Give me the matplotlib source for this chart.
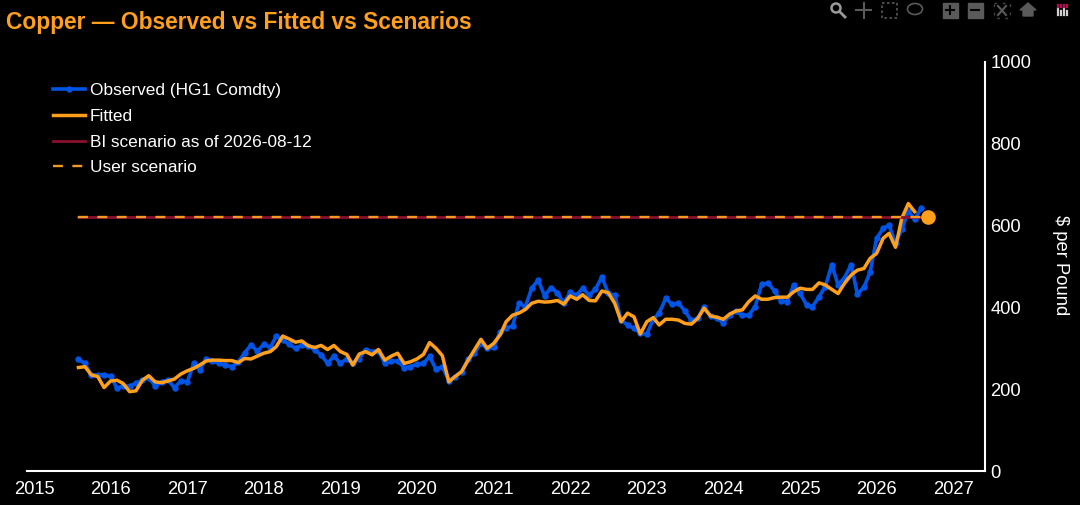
import numpy as np
import pandas as pd
import matplotlib
matplotlib.use('Agg')
import matplotlib.pyplot as plt
import matplotlib.dates as mdates
from matplotlib.patches import Circle, Rectangle, Ellipse

plt.rcParams['font.family'] = ['Liberation Sans', 'DejaVu Sans']

# 月度数据
obs_values = [273, 263, 235, 235, 235, 232, 202, 208, 208, 214, 222, 228, 208, 218, 222, 204, 220, 218, 263, 248,
              273, 270, 263, 259, 255, 266, 289, 308, 293, 310, 302, 330, 320, 310, 300, 308, 306, 296, 284, 263,
              281, 263, 275, 263, 275, 296, 292, 294, 263, 269, 269, 253, 255, 261, 263, 280, 249, 255, 221, 231,
              243, 273, 288, 312, 300, 302, 341, 349, 355, 410, 402, 447, 467, 428, 448, 436, 410, 437, 430, 447,
              430, 444, 475, 434, 430, 369, 357, 349, 337, 335, 371, 386, 422, 408, 410, 392, 368, 373, 402, 379,
              373, 363, 381, 390, 381, 381, 402, 456, 460, 440, 416, 414, 455, 434, 406, 402, 426, 451, 504, 455,
              473, 504, 433, 449, 487, 569, 593, 601, 557, 591, 636, 615, 642]
fit_values = [253, 255, 235, 231, 204, 220, 222, 214, 194, 196, 222, 233, 218, 216, 220, 225, 237, 245, 251, 259,
              269, 271, 271, 270, 270, 265, 275, 274, 281, 288, 292, 304, 330, 323, 315, 318, 306, 302, 307, 297,
              307, 292, 285, 259, 286, 292, 284, 297, 271, 281, 288, 263, 267, 274, 285, 314, 300, 282, 218, 231,
              243, 271, 296, 322, 300, 312, 333, 365, 381, 386, 395, 410, 415, 413, 414, 417, 408, 428, 420, 431,
              417, 416, 440, 436, 410, 365, 386, 377, 335, 365, 375, 357, 371, 371, 369, 361, 359, 373, 398, 379,
              376, 371, 384, 391, 394, 414, 428, 420, 420, 424, 425, 425, 438, 447, 444, 444, 460, 455, 444, 434,
              459, 479, 491, 495, 520, 532, 569, 581, 547, 618, 654, 634]
scenario_dates = ['2015-08-01', '2026-09-01']
bi_scenario = [621, 621]
user_scenario = [621, 621]
user_point_date = '2026-09-01'
user_point = 621
years = list(range(2015, 2028))
y_ticks = [0, 200, 400, 600, 800, 1000]

obs_dates = pd.date_range('2015-08-01', periods=len(obs_values), freq='MS')
fit_dates = obs_dates[:len(fit_values)]
scen_dates = pd.to_datetime(scenario_dates)

BLUE = '#0055e6'
ORANGE = '#ff9f1c'
RED = '#8c0f2e'
W, H = 1080, 505

fig = plt.figure(figsize=(W / 100, H / 100), dpi=100, facecolor='black')
ax = fig.add_axes([27 / W, 1 - 471 / H, (985 - 27) / W, (471 - 62) / H], facecolor='black')

ax.plot(obs_dates, obs_values, color=BLUE, lw=2.6, marker='o', ms=3.6, label='Observed (HG1 Comdty)')
ax.plot(fit_dates, fit_values, color=ORANGE, lw=2.5, label='Fitted')
ax.plot(scen_dates, bi_scenario, color=RED, lw=2.0, label='BI scenario as of 2026-08-12')
ax.plot(scen_dates, user_scenario, color='#f09a24', lw=1.7, dashes=(4.2, 4), label='User scenario')
ax.plot(pd.to_datetime([user_point_date]), [user_point], 'o', color=ORANGE, ms=9.5, zorder=5)

# x轴范围：2015 在 34px，每年约 76.6px
x0 = mdates.date2num(pd.Timestamp('2015-01-01')) - 7 / 76.6 * 365.25
x1 = mdates.date2num(pd.Timestamp('2015-01-01')) + (985 - 34) / 76.6 * 365.25
ax.set_xlim(x0, x1)
ax.set_ylim(0, 1000)

ax.set_xticks([pd.Timestamp(f'{y}-01-01') for y in years])
ax.set_xticklabels([str(y) for y in years])
ax.yaxis.tick_right()
ax.set_yticks(y_ticks)
ax.tick_params(axis='both', length=0, colors='white', labelsize=13.2)
ax.tick_params(axis='y', pad=4)
ax.tick_params(axis='x', pad=7)

for side in ['top', 'left']:
    ax.spines[side].set_visible(False)
for side in ['bottom', 'right']:
    ax.spines[side].set_color('white')
    ax.spines[side].set_linewidth(1.5)

leg = ax.legend(loc='upper left', bbox_to_anchor=(21 / 958, 1 - 16 / 409), frameon=False,
                fontsize=12.4, labelcolor='white', handlelength=1.86, handletextpad=0.27,
                labelspacing=0.62, borderpad=0.3, borderaxespad=0)

fig.text(6 / W, 1 - 22 / H, 'Copper — Observed vs Fitted vs Scenarios', color=ORANGE,
         fontsize=16.4, fontweight='bold', va='center', ha='left')
fig.text(1061 / W, 1 - 265 / H, '$ per Pound', color='white', fontsize=13.2, rotation=-90,
         va='center', ha='center')

# 右上角工具栏图标
bar = fig.add_axes([0, 0, 1, 1], facecolor='none')
bar.set_xlim(0, W)
bar.set_ylim(H, 0)
bar.axis('off')
grey = '#5a5a5a'
bar.add_patch(Circle((836, 8), 4.5, fill=False, ec='#9a9a9a', lw=1.8))
bar.plot([840, 845], [12, 17], color='#9a9a9a', lw=2)
bar.plot([856, 871], [10, 10], color=grey, lw=1.5)
bar.plot([863.5, 863.5], [3, 18], color=grey, lw=1.5)
bar.add_patch(Rectangle((882, 3), 15, 15, fill=False, ec=grey, lw=1.2, ls=(0, (1.5, 1.5))))
bar.add_patch(Ellipse((915, 9), 15, 11, fill=False, ec=grey, lw=1.2))
for cx, mark in [(950, '+'), (975, '-')]:
    bar.add_patch(Rectangle((cx - 7.5, 2.5), 15, 15, color=grey))
    bar.plot([cx - 4, cx + 4], [10, 10], color='black', lw=1.5)
    if mark == '+':
        bar.plot([cx, cx], [6, 14], color='black', lw=1.5)
bar.add_patch(Rectangle((994, 3), 16, 15, fill=False, ec='#444444', lw=1, ls=(0, (2, 4))))
bar.plot([998, 1006], [6, 15], color=grey, lw=1.5)
bar.plot([998, 1006], [15, 6], color=grey, lw=1.5)
bar.fill([1020, 1028, 1036, 1033, 1033, 1023, 1023], [10, 3, 10, 10, 16, 16, 10], color=grey)
for i, cx in enumerate([1058, 1061, 1064, 1067]):
    bar.plot([cx, cx], [8 + (i % 2) * 3, 15], color='#d0d0d0', lw=1.6)
    bar.plot([cx, cx], [5, 7], color='#b01050', lw=1.6)

fig.savefig('out.png', dpi=100, facecolor='black')
